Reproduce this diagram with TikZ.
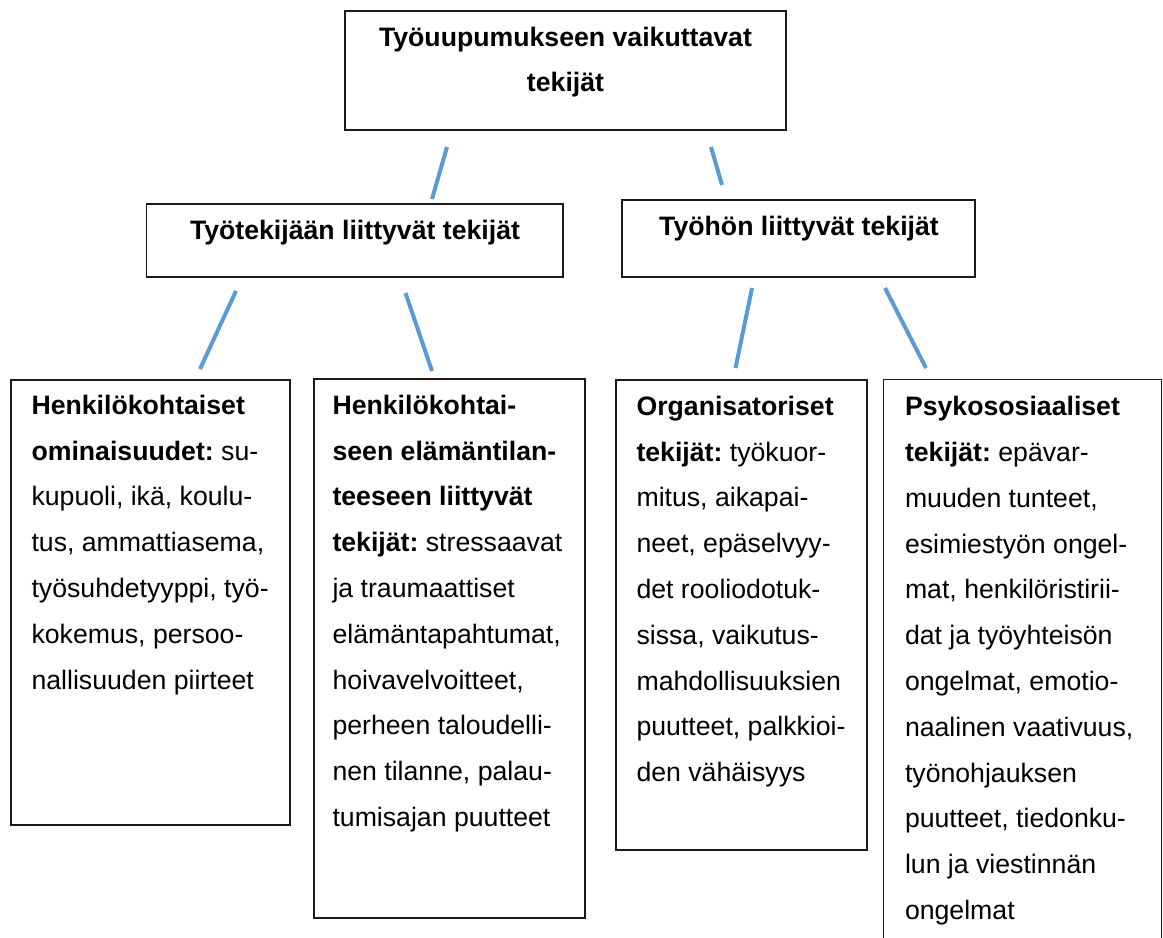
\documentclass[tikz,border=0pt]{standalone}
\usepackage{fontspec}
\setmainfont{Liberation Sans}
\usetikzlibrary{fit,calc}
\frenchspacing
\definecolor{connblue}{HTML}{5B9BD5}
\definecolor{boxline}{HTML}{1A1A1A}
\tikzset{
  boxx/.style={draw=boxline, line width=1.1pt, inner sep=0pt},
  openbox/.style={inner sep=0pt},
  conn/.style={draw=connblue, line width=3pt},
  bodytext/.style={inner sep=0pt, anchor=base west, font=\fontsize{20pt}{34.35pt}\selectfont},
  headtext/.style={inner sep=0pt, anchor=base, font=\fontsize{20pt}{33.6pt}\selectfont\bfseries},
}
\begin{document}
\begin{tikzpicture}[x=0.75pt, y=-0.75pt]
\useasboundingbox (0,0) rectangle (1163,938);

% boxes
\node[boxx, fit={(345,11)(786,130)}] (top) {};
\node[boxx, fit={(146.5,204)(563,277)}] (midL) {};
\node[boxx, fit={(622,200)(975,277)}] (midR) {};
\node[boxx, fit={(11,380)(290,825)}] (b1) {};
\node[boxx, fit={(314,379)(585,918)}] (b2) {};
\node[boxx, fit={(616,380)(867,850)}] (b3) {};
\node[openbox, fit={(884,380)(1161,938)}] (b4) {};
\draw[draw=boxline, line width=1.1pt] (b4.south west) |- (b4.north east) -- (b4.south east);

% texts
\node[headtext] (topT) at (565.5,47) {\parbox[t]{400pt}{\centering Työuupumukseen vaikuttavat\\ tekijät}};
\node[headtext] (midLT) at (355,239) {Työtekijään liittyvät tekijät};
\node[headtext] (midRT) at (799,235) {Työhön liittyvät tekijät};

\node[bodytext] (b1T) at ($(b1.north west)+(21,35)$) {\parbox[t]{250pt}{\raggedright
\textbf{Henkilökohtaiset}\\
\textbf{ominaisuudet:} su-\\
kupuoli, ikä, koulu-\\
tus, ammattiasema,\\
työsuhdetyyppi, työ-\\
kokemus, persoo-\\
nallisuuden piirteet}};

\node[bodytext] (b2T) at ($(b2.north west)+(19,36)$) {\parbox[t]{250pt}{\raggedright
\textbf{Henkilökohtai-}\\
\textbf{seen elämäntilan-}\\
\textbf{teeseen liittyvät}\\
\textbf{tekijät:} stressaavat\\
ja traumaattiset\\
elämäntapahtumat,\\
hoivavelvoitteet,\\
perheen taloudelli-\\
nen tilanne, palau-\\
tumisajan puutteet}};

\node[bodytext] (b3T) at ($(b3.north west)+(21,36)$) {\parbox[t]{250pt}{\raggedright
\textbf{Organisatoriset}\\
\textbf{tekijät:} työkuor-\\
mitus, aikapai-\\
neet, epäselvyy-\\
det rooliodotuk-\\
sissa, vaikutus-\\
mahdollisuuksien\\
puutteet, palkkioi-\\
den vähäisyys}};

\node[bodytext] (b4T) at ($(b4.north west)+(21,36)$) {\parbox[t]{250pt}{\raggedright
\textbf{Psykososiaaliset}\\
\textbf{tekijät:} epävar-\\
muuden tunteet,\\
esimiestyön ongel-\\
mat, henkilöristirii-\\
dat ja työyhteisön\\
ongelmat, emotio-\\
naalinen vaativuus,\\
työnohjauksen\\
puutteet, tiedonku-\\
lun ja viestinnän\\
ongelmat}};

% connector end points
\coordinate (c1a) at (447,147);   \coordinate (c1b) at (432,199);
\coordinate (c2a) at (711,147);   \coordinate (c2b) at (722,185);
\coordinate (c3a) at (236,291);   \coordinate (c3b) at (200,369);
\coordinate (c4a) at (405.5,293); \coordinate (c4b) at (432,371);
\coordinate (c5a) at (752,288);   \coordinate (c5b) at (735.5,368);
\coordinate (c6a) at (885,288);   \coordinate (c6b) at (926,368);

\draw[conn] (c1a) -- (c1b);
\draw[conn] (c2a) -- (c2b);
\draw[conn] (c3a) -- (c3b);
\draw[conn] (c4a) -- (c4b);
\draw[conn] (c5a) -- (c5b);
\draw[conn] (c6a) -- (c6b);
\end{tikzpicture}
\end{document}
